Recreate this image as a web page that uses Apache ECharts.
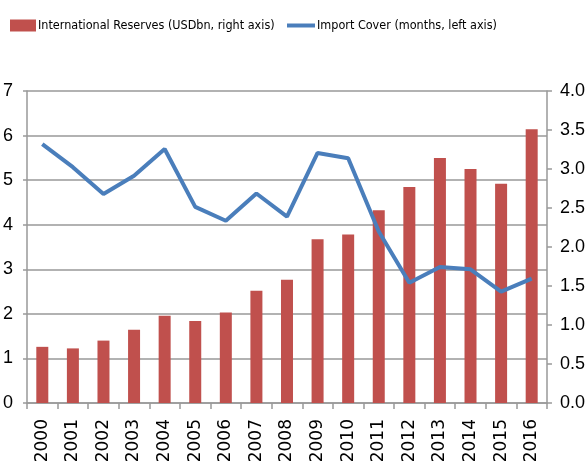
<!DOCTYPE html>
<html>
<head>
<meta charset="utf-8">
<script src="https://cdn.jsdelivr.net/npm/echarts@6/dist/echarts.min.js"></script>
<style>html,body{margin:0;padding:0;background:#fff}#c{width:588px;height:466px}</style>
</head>
<body>
<div id="c"></div>
<script>
var years = ['2000','2001','2002','2003','2004','2005','2006','2007','2008','2009','2010','2011','2012','2013','2014','2015','2016'];
var reserves = [0.72, 0.70, 0.80, 0.94, 1.12, 1.05, 1.16, 1.44, 1.58, 2.10, 2.16, 2.47, 2.77, 3.14, 3.00, 2.81, 3.51];
var importCover = [5.81, 5.29, 4.69, 5.10, 5.70, 4.40, 4.09, 4.70, 4.18, 5.61, 5.49, 3.85, 2.70, 3.05, 3.00, 2.50, 2.79];
var leftTicks = {min: 0, max: 7, interval: 1};
var rightTicks = {min: 0, max: 4, interval: 0.5};
var nameRes = 'International Reserves (USDbn, right axis)';
var nameImp = 'Import Cover (months, left axis)';

var font = "'Liberation Sans', Arial, sans-serif";
var legendText = {fontFamily: "'DejaVu Sans Condensed', 'Liberation Sans', sans-serif", fontSize: 12.5, color: '#000', padding: [0, 0, 0, -3]};
var chart = echarts.init(document.getElementById('c'), null, {renderer: 'canvas'});
chart.setOption({
  animation: false,
  backgroundColor: '#fff',
  legend: [{
    left: 5, top: 14, itemWidth: 26, itemHeight: 12, width: 300,
    textStyle: legendText,
    data: [{name: nameRes, icon: 'rect'}]
  }, {
    left: 282, top: 14, itemWidth: 28, itemHeight: 4, width: 300,
    textStyle: legendText,
    data: [{name: nameImp, icon: 'rect'}]
  }],
  grid: {left: 24, right: 36, top: 91, bottom: 63},
  xAxis: {
    type: 'category', data: years, boundaryGap: true,
    axisLine: {lineStyle: {color: '#999', width: 1.5}},
    axisTick: {show: true, length: 6, lineStyle: {color: '#999', width: 1.5}},
    axisLabel: {rotate: 90, margin: 16, fontFamily: 'DejaVu Sans', fontSize: 17, color: '#000'}
  },
  yAxis: [{
    type: 'value', min: leftTicks.min, max: leftTicks.max, interval: leftTicks.interval,
    axisLine: {show: true, lineStyle: {color: '#999', width: 1.5}},
    axisTick: {show: true, length: 4, lineStyle: {color: '#999', width: 1.5}},
    splitLine: {lineStyle: {color: '#999', width: 1.5}},
    axisLabel: {margin: 14, fontFamily: font, fontSize: 18, color: '#000'}
  }, {
    type: 'value', min: rightTicks.min, max: rightTicks.max, interval: rightTicks.interval,
    axisLine: {show: true, lineStyle: {color: '#999', width: 1.5}},
    axisTick: {show: true, length: 5, lineStyle: {color: '#999', width: 1.5}},
    splitLine: {show: false},
    axisLabel: {margin: 13, fontFamily: font, fontSize: 18, color: '#000',
      formatter: function(v){ return v.toFixed(1); }}
  }],
  series: [{
    name: nameRes, type: 'bar', yAxisIndex: 1,
    data: reserves, barWidth: 12, itemStyle: {color: '#C0504D'}
  }, {
    name: nameImp, type: 'line', yAxisIndex: 0,
    data: importCover, symbol: 'none', lineStyle: {color: '#4A7EBB', width: 4}, itemStyle: {color: '#4A7EBB'}
  }]
});
</script>
</body>
</html>
